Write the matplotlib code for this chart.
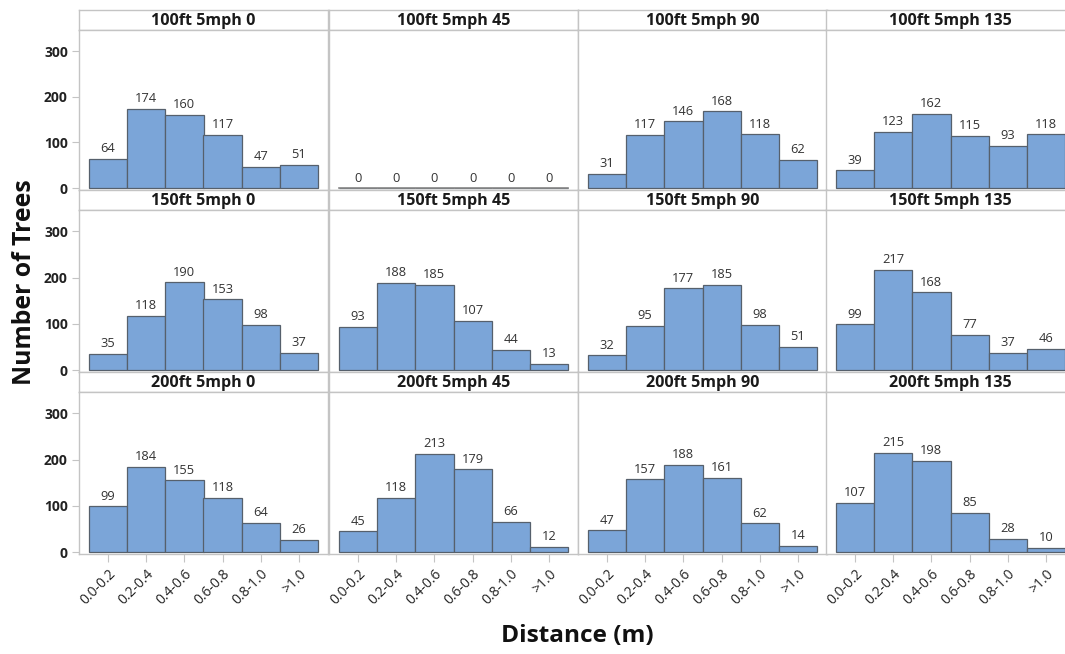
import matplotlib
matplotlib.use("Agg")
import matplotlib.pyplot as plt

plt.rcParams['font.family'] = ['Open Sans', 'DejaVu Sans']

categories = ["0.0-0.2", "0.2-0.4", "0.4-0.6", "0.6-0.8", "0.8-1.0", ">1.0"]
distances = ["100ft", "150ft", "200ft"]
angles = ["0", "45", "90", "135"]

v_100_0 = [64, 174, 160, 117, 47, 51]
v_100_45 = [0, 0, 0, 0, 0, 0]
v_100_90 = [31, 117, 146, 168, 118, 62]
v_100_135 = [39, 123, 162, 115, 93, 118]
v_150_0 = [35, 118, 190, 153, 98, 37]
v_150_45 = [93, 188, 185, 107, 44, 13]
v_150_90 = [32, 95, 177, 185, 98, 51]
v_150_135 = [99, 217, 168, 77, 37, 46]
v_200_0 = [99, 184, 155, 118, 64, 26]
v_200_45 = [45, 118, 213, 179, 66, 12]
v_200_90 = [47, 157, 188, 161, 62, 14]
v_200_135 = [107, 215, 198, 85, 28, 10]

values = [
    [v_100_0, v_100_45, v_100_90, v_100_135],
    [v_150_0, v_150_45, v_150_90, v_150_135],
    [v_200_0, v_200_45, v_200_90, v_200_135],
]
yticks = [0, 100, 200, 300]

W, H = 1065, 654
fig = plt.figure(figsize=(W / 100, H / 100), dpi=100)

col_left = [79, 329, 578, 826]
col_w = 249
row_top = [10, 190, 372]
strip_h = 20
row_bottom = [190, 372, 554]

bar_color = "#7BA5D8"
edge_color = "#56606C"
frame_color = "#C4C4C4"
text_color = "#333333"

def fx(px):
    return px / W

def fy(py):
    return 1 - py / H

for r in range(3):
    for c in range(4):
        x0 = col_left[c]
        # strip
        sax = fig.add_axes([fx(x0), fy(row_top[r] + strip_h), fx(col_w), strip_h / H])
        sax.set_xticks([]); sax.set_yticks([])
        for s in sax.spines.values():
            s.set_color(frame_color); s.set_linewidth(1.0)
        sax.text(0.5, 0.45, f"{distances[r]} 5mph {angles[c]}", ha="center", va="center",
                 fontsize=11.6, fontweight="bold", color="#1a1a1a", transform=sax.transAxes)
        # plot
        top = row_top[r] + strip_h
        ax = fig.add_axes([fx(x0), fy(row_bottom[r]), fx(col_w), (row_bottom[r] - top) / H])
        vals = values[r][c]
        xs = list(range(len(categories)))
        ax.bar(xs, vals, width=1.0, color=bar_color, edgecolor=edge_color, linewidth=0.9)
        if sum(vals) == 0:
            ax.plot([-0.5, 5.5], [0, 0], color="#888888", lw=1.2)
        for x, v in zip(xs, vals):
            ax.text(x, v + 8, str(v), ha="center", va="bottom", fontsize=9.3, color=text_color)
        ax.set_xlim(-0.76, 5.76)
        ax.set_ylim(-4, 346)
        for s in ax.spines.values():
            s.set_color(frame_color); s.set_linewidth(1.0)
        ax.set_yticks(yticks)
        if c == 0:
            ax.set_yticklabels([str(t) for t in yticks], fontsize=10, fontweight="bold", color="#222222")
            ax.tick_params(axis="y", length=5, color=frame_color, pad=3)
        else:
            ax.tick_params(axis="y", length=0, labelleft=False)
        ax.set_xticks(xs)
        if r == 2:
            ax.set_xticklabels(categories, rotation=45, ha="right", va="top",
                               rotation_mode="anchor", fontsize=10, color="#222222")
            ax.tick_params(axis="x", length=6, color=frame_color, pad=3)
        else:
            ax.tick_params(axis="x", length=0, labelbottom=False)

fig.text(fx(25), fy(282), "Number of Trees", rotation=90, ha="center", va="center",
         fontsize=17.8, fontweight="bold", color="#111111")
fig.text(fx(577), fy(636), "Distance (m)", ha="center", va="center",
         fontsize=17.6, fontweight="bold", color="#111111")

fig.savefig("out.png", dpi=100)
